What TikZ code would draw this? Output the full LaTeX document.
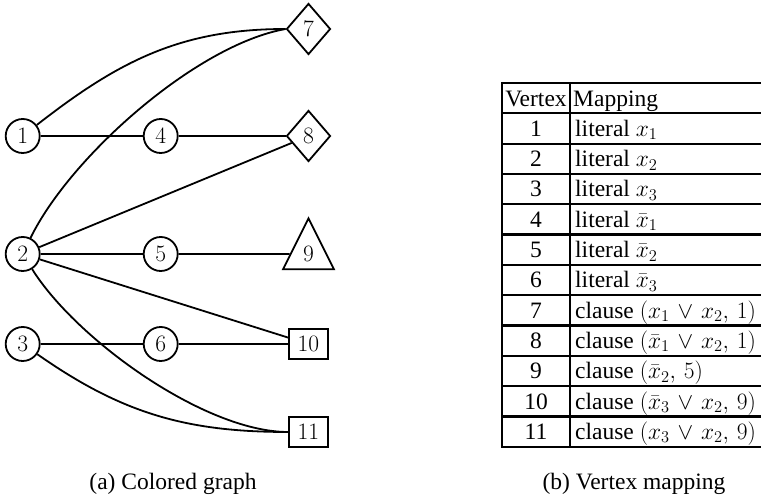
\RequirePackage{fix-cm}
\documentclass[tikz,border=0pt]{standalone}
\usepackage{fontspec}
\setmainfont{Liberation Serif}
\usetikzlibrary{shapes.geometric}

\begin{document}
\begin{tikzpicture}[x=1pt,y=1pt,
  every node/.style={font=\fontsize{23.5}{28}\selectfont},
  vtx/.style={circle,draw,line width=1.8pt,minimum size=34pt,inner sep=0pt},
  dia/.style={diamond,draw,line width=1.8pt,minimum width=44pt,minimum height=51pt,inner sep=0pt},
  tri/.style={isosceles triangle,shape border rotate=90,isosceles triangle stretches,
    draw,line width=1.8pt,minimum width=51pt,minimum height=51pt,inner sep=0pt},
  clbox/.style={rectangle,draw,line width=1.8pt,minimum width=39pt,minimum height=30pt,inner sep=0pt},
  link/.style={line width=1.8pt},
  tabrule/.style={line width=2.3pt},
  cellnum/.style={anchor=base,inner sep=0pt,text height=16pt,text depth=4pt},
  celltxt/.style={anchor=base west,inner sep=0pt,text height=16pt,text depth=4pt,
    execute at begin node={\medmuskip=6mu plus 2mu minus 2mu}},
]
\useasboundingbox (0,0) rectangle (761,503);

% ---------- graph ----------
\node[vtx] (n1) at (22.7,367) {$1$};
\node[vtx] (n2) at (22.7,249) {$2$};
\node[vtx] (n3) at (22.7,159) {$3$};
\node[vtx] (n4) at (160.7,367) {$4$};
\node[vtx] (n5) at (160.7,249) {$5$};
\node[vtx] (n6) at (160.7,159) {$6$};
\node[dia] (n7) at (308.5,474) {$7$};
\node[dia] (n8) at (308.5,367) {$8$};
\node[tri] (n9) at (308.5,249) {$9$};
\node[clbox] (n10) at (308.5,159) {$10$};
\node[clbox] (n11) at (308.5,71) {$11$};

\draw[link] (n1) -- (n4);
\draw[link] (n4) -- (n8);
\draw[link] (n2) -- (n5);
\draw[link] (n5) -- (n9);
\draw[link] (n3) -- (n6);
\draw[link] (n6) -- (n10);
\draw[link] (n2) -- (n8);
\draw[link] (n2) -- (n10);
\draw[link] (n1) to[out=38,in=180] (n7.west);
\draw[link] (n2) to[out=64,in=190,looseness=0.7] (n7.west);
\draw[link] (n2) to[out=-58,in=180,looseness=0.7] (n11.west);
\draw[link] (n3) to[out=-35,in=180] (n11.west);

\node (capa) at (173,19) {(a) Colored graph};

% ---------- table ----------
\foreach \k in {0,...,12}
  \draw[tabrule] (502,{420-30.33*\k}) -- (762,{420-30.33*\k});
\draw[tabrule] (502,421) -- (502,55);
\draw[tabrule] (570,421) -- (570,55);

\node[cellnum] (hv) at (536,{389.67+7}) {Vertex};
\node[celltxt] (hm) at (573,{389.67+7}) {Mapping};

\node[cellnum] (v1) at (536,{420-30.33*2+7.5}) {1};
\node[celltxt] (m1) at (575,{420-30.33*2+7.5}) {literal $x_1$};
\node[cellnum] (v2) at (536,{420-30.33*3+7.5}) {2};
\node[celltxt] (m2) at (575,{420-30.33*3+7.5}) {literal $x_2$};
\node[cellnum] (v3) at (536,{420-30.33*4+7.5}) {3};
\node[celltxt] (m3) at (575,{420-30.33*4+7.5}) {literal $x_3$};
\node[cellnum] (v4) at (536,{420-30.33*5+7.5}) {4};
\node[celltxt] (m4) at (575,{420-30.33*5+7.5}) {literal $\bar{x}_1$};
\node[cellnum] (v5) at (536,{420-30.33*6+7.5}) {5};
\node[celltxt] (m5) at (575,{420-30.33*6+7.5}) {literal $\bar{x}_2$};
\node[cellnum] (v6) at (536,{420-30.33*7+7.5}) {6};
\node[celltxt] (m6) at (575,{420-30.33*7+7.5}) {literal $\bar{x}_3$};
\node[cellnum] (v7) at (536,{420-30.33*8+7.5}) {7};
\node[celltxt] (m7) at (575,{420-30.33*8+7.5}) {clause $(x_1\vee x_2,\,1)$};
\node[cellnum] (v8) at (536,{420-30.33*9+7.5}) {8};
\node[celltxt] (m8) at (575,{420-30.33*9+7.5}) {clause $(\bar{x}_1\vee x_2,\,1)$};
\node[cellnum] (v9) at (536,{420-30.33*10+7.5}) {9};
\node[celltxt] (m9) at (575,{420-30.33*10+7.5}) {clause $(\bar{x}_2,\,5)$};
\node[cellnum] (v10) at (536,{420-30.33*11+7.5}) {10};
\node[celltxt] (m10) at (575,{420-30.33*11+7.5}) {clause $(\bar{x}_3\vee x_2,\,9)$};
\node[cellnum] (v11) at (536,{420-30.33*12+7.5}) {11};
\node[celltxt] (m11) at (575,{420-30.33*12+7.5}) {clause $(x_3\vee x_2,\,9)$};

\node (capb) at (634,19) {(b) Vertex mapping};
\end{tikzpicture}
\end{document}
